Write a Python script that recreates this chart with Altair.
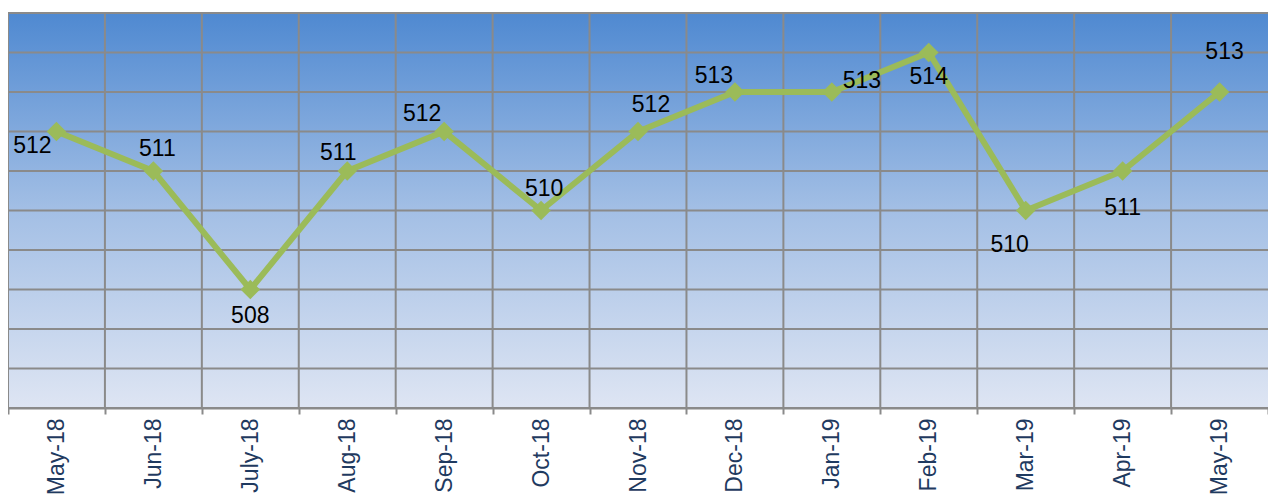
import altair as alt
import pandas as pd

months = ["May-18", "Jun-18", "July-18", "Aug-18", "Sep-18", "Oct-18", "Nov-18",
          "Dec-18", "Jan-19", "Feb-19", "Mar-19", "Apr-19", "May-19"]
values = [512, 511, 508, 511, 512, 510, 512, 513, 513, 514, 510, 511, 513]
y_ticks = list(range(505, 516))

# label offsets (style): dx, dy relative to each point
label_offsets = {
    "May-18": (-24, 14), "Jun-18": (4, -22), "July-18": (0, 26), "Aug-18": (-9, -18),
    "Sep-18": (-22, -18), "Oct-18": (3, -22), "Nov-18": (13, -27), "Dec-18": (-21, -16),
    "Jan-19": (30, -11), "Feb-19": (0, 24), "Mar-19": (-16, 34), "Apr-19": (0, 37),
    "May-19": (5, -40),
}

W, H = 1260, 395
GRID = "#8a8a8a"
LINE = "#9BBB59"
FONT = "Liberation Sans"

df = pd.DataFrame({"month": months, "value": values})
grid_df = pd.DataFrame({"v": y_ticks})
month_df = pd.DataFrame({"month": months})
bg_df = pd.DataFrame({"a": [0]})

x_scale = alt.Scale(type="band", domain=months, paddingInner=0, paddingOuter=0)
y_scale = alt.Scale(domain=[505, 515], nice=False, zero=False)
x_axis = alt.Axis(
    title=None, labelAngle=-90, labelFontSize=23, labelFont=FONT, labelColor="#1F3A60",
    tickBand="extent", tickSize=6, tickColor=GRID, tickWidth=2,
    domainColor=GRID, domainWidth=2, grid=False, labelPadding=4,
)

gradient = alt.LinearGradient(
    gradient="linear", x1=0, x2=0, y1=0, y2=1,
    stops=[
        alt.GradientStop(color="#4F89D1", offset=0),
        alt.GradientStop(color="#A3BFE5", offset=0.5),
        alt.GradientStop(color="#DEE5F3", offset=1),
    ],
)

bg = alt.Chart(bg_df).mark_rect(fill=gradient, stroke=None).encode(
    x=alt.value(0), x2=alt.value(W), y=alt.value(0), y2=alt.value(H)
)

hgrid = alt.Chart(grid_df).mark_rule(color=GRID, strokeWidth=2).encode(
    y=alt.Y("v:Q", scale=y_scale, axis=None)
)

vgrid = alt.Chart(month_df).mark_rule(color=GRID, strokeWidth=2).encode(
    x=alt.X("month:N", sort=months, scale=x_scale, axis=x_axis, bandPosition=0)
)

x_center = alt.X("month:N", sort=months, scale=x_scale, axis=x_axis, bandPosition=0.5)
y_val = alt.Y("value:Q", scale=y_scale, axis=None)

line = alt.Chart(df).mark_line(color=LINE, strokeWidth=6).encode(x=x_center, y=y_val)
points = alt.Chart(df).mark_point(
    shape="diamond", filled=True, color=LINE, size=380, opacity=1
).encode(x=x_center, y=y_val)

texts = []
for m in months:
    dx, dy = label_offsets[m]
    texts.append(
        alt.Chart(df).transform_filter(alt.datum.month == m).mark_text(
            dx=dx, dy=dy, fontSize=23, font=FONT, color="black",
            align="center", baseline="middle",
        ).encode(x=x_center, y=y_val, text=alt.Text("value:Q"))
    )

chart = alt.layer(bg, hgrid, vgrid, line, points, *texts).properties(
    width=W, height=H,
    padding={"left": 0, "top": 5, "right": 0, "bottom": 87},
    autosize=alt.AutoSizeParams(type="none"),
).configure_view(stroke=None)

chart.save("out.html", embed_options={"renderer": "svg", "actions": False})
